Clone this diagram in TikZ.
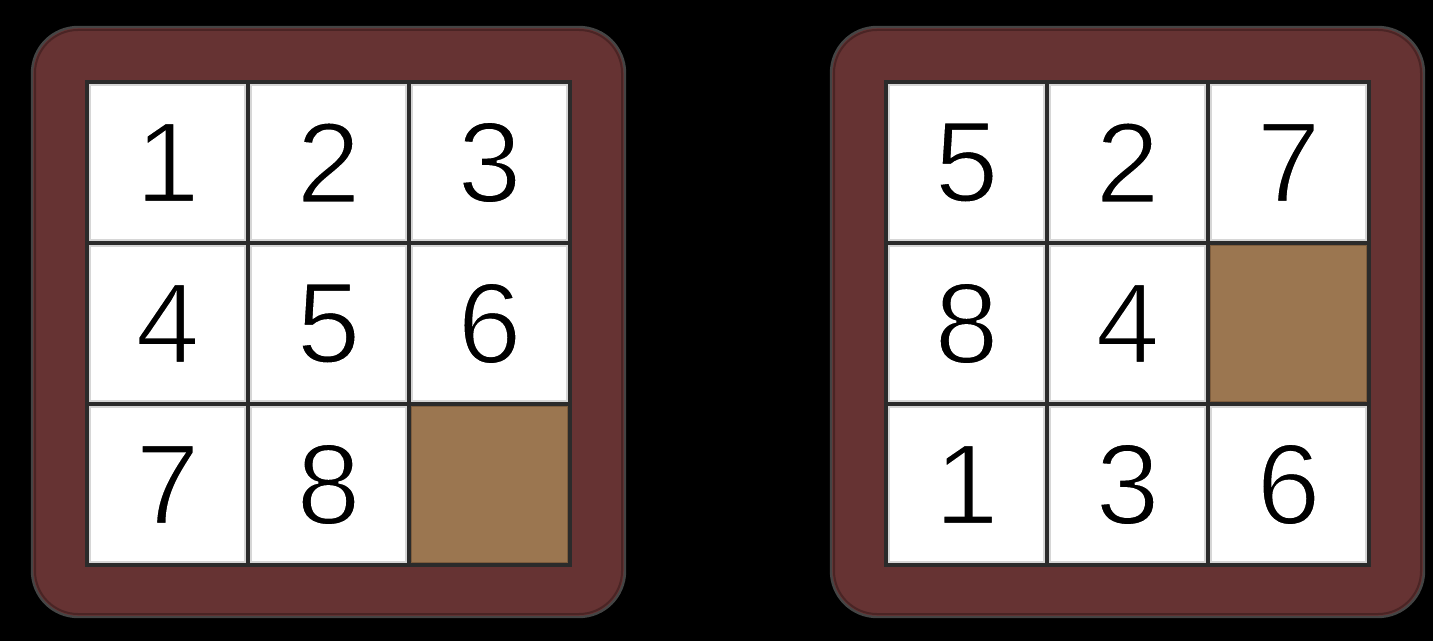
\documentclass[tikz,border=0pt]{standalone}
\usepackage{fontspec}
\setmainfont{Liberation Sans}
\definecolor{framefill}{HTML}{663333}
\definecolor{frameedge}{HTML}{444444}
\definecolor{frameinner}{HTML}{4A2424}
\definecolor{gridline}{HTML}{2B2B2B}
\definecolor{halo}{HTML}{D6D6D6}
\definecolor{emptyfill}{HTML}{9B7650}
\definecolor{emptyedge}{HTML}{7E5D3D}
\newcommand{\thindigit}[1]{\special{pdf:literal direct q 1 1 1 RG 1.1 w 2 Tr}#1\special{pdf:literal direct Q}}
\tikzset{
  puzzleframe/.style={fill=framefill, draw=frameedge, line width=1.2pt, rounded corners=23pt},
  frameband/.style={draw=frameinner, line width=1pt, rounded corners=21.5pt},
  tile/.style={draw=gridline, line width=1.7pt, fill=white, minimum size=80.5pt, inner sep=0pt, outer sep=0pt,
    font=\fontsize{57.5}{58}\selectfont,
    path picture={\draw[halo, line width=3.8pt] (path picture bounding box.south west) rectangle (path picture bounding box.north east);}},
  hole/.style={draw=gridline, line width=1.7pt, fill=emptyfill, minimum size=80.5pt, inner sep=0pt, outer sep=0pt,
    path picture={\draw[emptyedge, line width=3pt] (path picture bounding box.south west) rectangle (path picture bounding box.north east);}}
}
\begin{document}
\begin{tikzpicture}[x=0.5pt,y=-0.5pt]
\useasboundingbox (0,0) rectangle (1433,641);
\fill[black] (0,0) rectangle (1433,641);
% frames
\path[puzzleframe] (32,27) rectangle (625,617);
\path[frameband] (35,30) rectangle (622,614);
\path[puzzleframe] (831,27) rectangle (1424,617);
\path[frameband] (834,30) rectangle (1421,614);
% left puzzle (solved)
\node[tile] (L11) at (167.5,162.5) {\thindigit{1}};
\node[tile] (L12) at (328.5,162.5) {\thindigit{2}};
\node[tile] (L13) at (489.5,162.5) {\thindigit{3}};
\node[tile] (L21) at (167.5,323.5) {\thindigit{4}};
\node[tile] (L22) at (328.5,323.5) {\thindigit{5}};
\node[tile] (L23) at (489.5,323.5) {\thindigit{6}};
\node[tile] (L31) at (167.5,484.5) {\thindigit{7}};
\node[tile] (L32) at (328.5,484.5) {\thindigit{8}};
\node[hole] (L33) at (489.5,484.5) {};
% right puzzle (scrambled)
\node[tile] (R11) at (966.5,162.5) {\thindigit{5}};
\node[tile] (R12) at (1127.5,162.5) {\thindigit{2}};
\node[tile] (R13) at (1288.5,162.5) {\thindigit{7}};
\node[tile] (R21) at (966.5,323.5) {\thindigit{8}};
\node[tile] (R22) at (1127.5,323.5) {\thindigit{4}};
\node[hole] (R23) at (1288.5,323.5) {};
\node[tile] (R31) at (966.5,484.5) {\thindigit{1}};
\node[tile] (R32) at (1127.5,484.5) {\thindigit{3}};
\node[tile] (R33) at (1288.5,484.5) {\thindigit{6}};
\end{tikzpicture}
\end{document}
